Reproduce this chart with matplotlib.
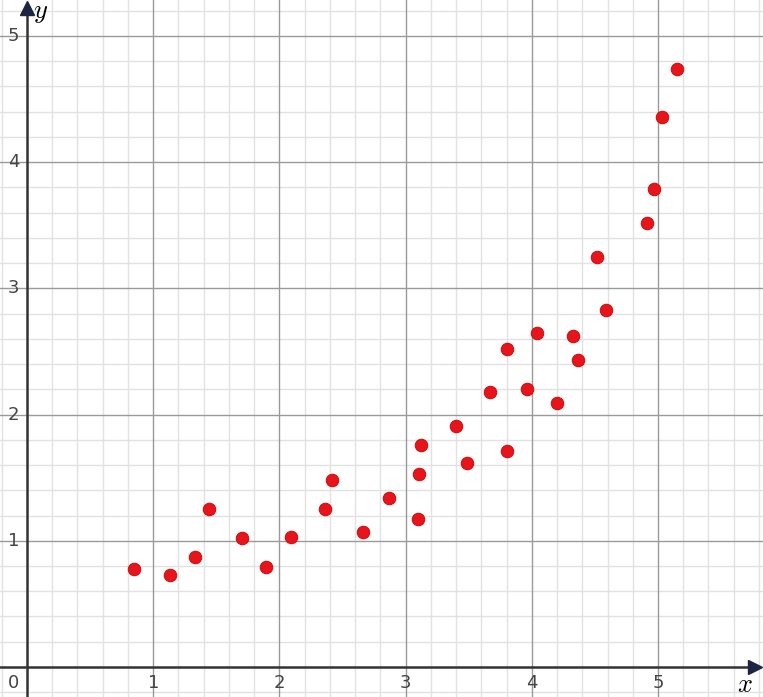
import matplotlib.pyplot as plt
import numpy as np

plt.rcParams['mathtext.fontset'] = 'cm'

# scatter data
x_vals = [0.85, 1.13, 1.33, 1.44, 1.70, 1.89, 2.09, 2.36, 2.42, 2.66, 2.87,
          3.10, 3.11, 3.12, 3.40, 3.49, 3.67, 3.80, 3.80, 3.96, 4.04, 4.20,
          4.33, 4.37, 4.52, 4.59, 4.91, 4.97, 5.03, 5.15]
y_vals = [0.78, 0.73, 0.87, 1.25, 1.02, 0.79, 1.03, 1.25, 1.48, 1.07, 1.34,
          1.17, 1.53, 1.76, 1.91, 1.62, 2.18, 2.52, 1.71, 2.20, 2.65, 2.09,
          2.62, 2.43, 3.25, 2.83, 3.52, 3.79, 4.36, 4.74]
x_ticks = [1, 2, 3, 4, 5]
y_ticks = [1, 2, 3, 4, 5]

axis_col = "#333333"
arrow_col = "#1c2541"
major_col = "#9a9a9a"
minor_col = "#e2e2e2"
point_col = "#e8141b"

fig = plt.figure(figsize=(7.63, 6.97), dpi=100)
ax = fig.add_axes([0, 0, 1, 1])
x_min, x_max = -0.214, 5.832
y_min, y_max = -0.238, 5.285
ax.set_xlim(x_min, x_max)
ax.set_ylim(y_min, y_max)
ax.axis('off')

# grid
for v in np.arange(-0.2, 6.0, 0.2):
    if abs(v - round(v)) > 1e-6:
        ax.axvline(v, color=minor_col, lw=1.0, zorder=1)
        ax.axhline(v, color=minor_col, lw=1.0, zorder=1)
for v in range(1, 6):
    ax.axvline(v, color=major_col, lw=1.0, zorder=2)
    ax.axhline(v, color=major_col, lw=1.0, zorder=2)

# axes with arrows
ax.plot([0, 0], [y_min, y_max - 0.05], color=axis_col, lw=1.8, zorder=3)
ax.plot([x_min, x_max - 0.05], [0, 0], color=axis_col, lw=1.8, zorder=3)
ax.plot(0, y_max - 0.06, marker='^', color=arrow_col, ms=10, zorder=4, clip_on=False)
ax.plot(x_max - 0.06, 0, marker='>', color=arrow_col, ms=10, zorder=4, clip_on=False)

# tick labels
lab_col = "#444444"
for t in x_ticks:
    ax.text(t, -0.13, str(t), ha='center', va='center', fontsize=13, color=lab_col, zorder=5)
for t in y_ticks:
    ax.text(-0.06, t, str(t), ha='right', va='center', fontsize=13, color=lab_col, zorder=5)
ax.text(-0.06, -0.13, '0', ha='right', va='center', fontsize=13, color=lab_col, zorder=5)

ax.text(0.05, y_max + 0.01, r'$y$', ha='left', va='top', fontsize=19, color='black', zorder=5)
ax.text(x_max - 0.08, -0.04, r'$x$', ha='right', va='top', fontsize=19, color='black', zorder=5)

ax.scatter(x_vals, y_vals, s=80, color=point_col, edgecolors="#d01010", linewidths=0.8, zorder=6)

fig.savefig("out.png", dpi=100)
